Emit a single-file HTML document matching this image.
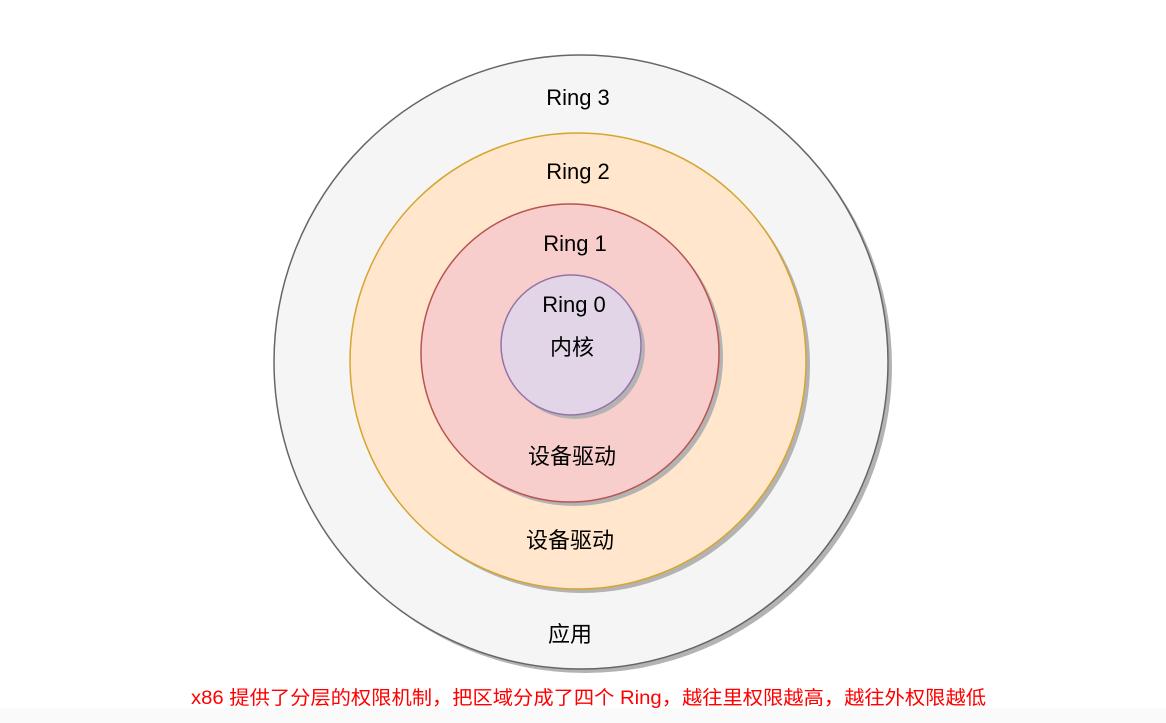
<!DOCTYPE html>
<html><head><meta charset="utf-8"><style>
html,body{margin:0;padding:0;background:#fff;}
svg{display:block}
</style></head><body>
<svg width="1166" height="723" viewBox="0 0 1166 723" xmlns="http://www.w3.org/2000/svg">
<rect x="0" y="708" width="1166" height="15" fill="#fafafa"/>
<circle cx="585" cy="366" r="307" fill="#b3b3b3"/>
<circle cx="581" cy="362" r="307" fill="#f5f5f5" stroke="#666" stroke-width="1.5"/>
<circle cx="582" cy="365" r="228" fill="#b3b3b3"/>
<circle cx="578" cy="361" r="228" fill="#ffe6cc" stroke="#d6a530" stroke-width="1.5"/>
<circle cx="574" cy="357" r="149" fill="#b3b3b3"/>
<circle cx="570" cy="353" r="149" fill="#f8cecc" stroke="#b85450" stroke-width="1.5"/>
<circle cx="575" cy="349" r="70" fill="#b3b3b3"/>
<circle cx="571" cy="345" r="70" fill="#e1d5e7" stroke="#9673a6" stroke-width="1.5"/>
<g font-family="'Liberation Sans','Noto Sans CJK SC',sans-serif" font-size="22" fill="#000" text-anchor="middle">
<text x="578" y="105">Ring 3</text>
<text x="578" y="179">Ring 2</text>
<text x="575" y="251">Ring 1</text>
<text x="574" y="312">Ring 0</text>
<text x="572" y="355">内核</text>
<text x="572" y="464">设备驱动</text>
<text x="570" y="548">设备驱动</text>
<text x="570" y="642">应用</text>
</g>
<text x="191" y="704" textLength="795" lengthAdjust="spacingAndGlyphs" font-family="'Liberation Sans','Noto Sans CJK SC',sans-serif" font-size="19" fill="#ff0000">x86 提供了分层的权限机制，把区域分成了四个 Ring，越往里权限越高，越往外权限越低</text>
</svg>
</body></html>
